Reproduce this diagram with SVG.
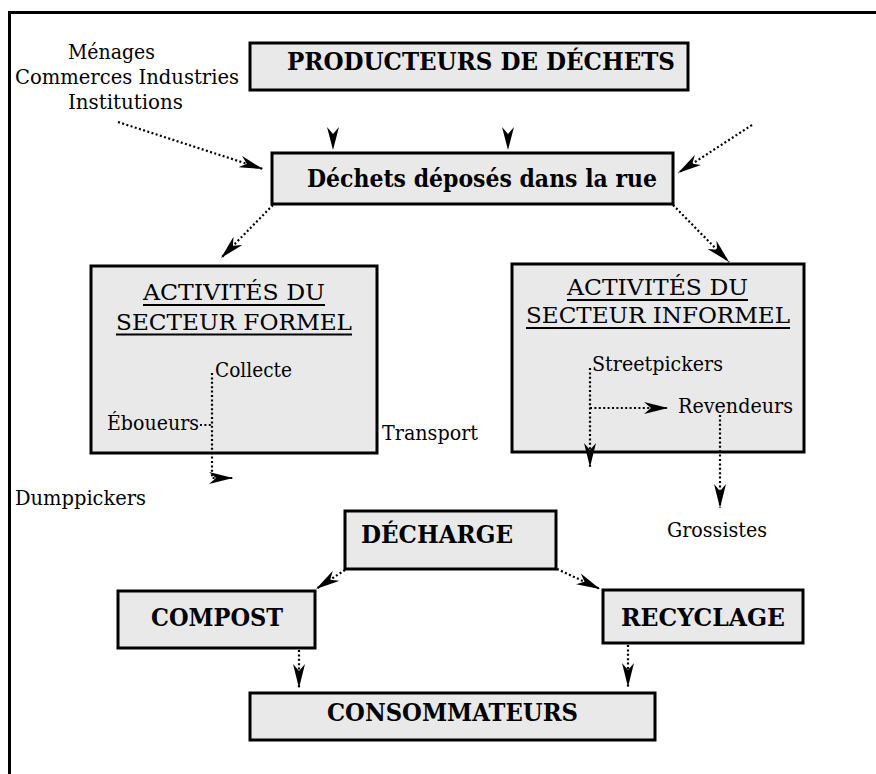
<svg xmlns="http://www.w3.org/2000/svg" width="876" height="774" viewBox="0 0 876 774">
<style>
.box{fill:#e9e9e9;stroke:#000;stroke-width:3}
.b{font-family:"DejaVu Serif","Liberation Serif",serif;font-weight:bold;font-size:24px;fill:#000}
.r{font-family:"DejaVu Serif","Liberation Serif",serif;font-size:20px;fill:#000}
.t{font-family:"DejaVu Serif","Liberation Serif",serif;font-size:22px;fill:#000}
.ul{stroke:#000;stroke-width:2}
.dot{fill:none;stroke:#000;stroke-width:2.2;stroke-dasharray:2 2.4}
.arr{marker-end:url(#ah)}
</style>
<defs>
<marker id="ah" markerUnits="userSpaceOnUse" viewBox="0 0 24 12" refX="24" refY="6" markerWidth="24" markerHeight="12" orient="auto">
<path d="M0,0 L24,6 L0,12 L7,6 Z" fill="#000"/>
</marker>
</defs>
<rect width="876" height="774" fill="#fff"/>
<g id="frame">
<path d="M9.5,774 V12.5 H876" fill="none" stroke="#000" stroke-width="3"/>
</g>
<g id="sources">
<text class="r" x="68" y="59" textLength="87" lengthAdjust="spacingAndGlyphs">Ménages</text>
<text class="r" x="15" y="84" textLength="224" lengthAdjust="spacingAndGlyphs">Commerces Industries</text>
<text class="r" x="68" y="109" textLength="115" lengthAdjust="spacingAndGlyphs">Institutions</text>
</g>
<g id="producteurs">
<rect class="box" x="250" y="43" width="438" height="47"/>
<text class="b" x="287" y="70" textLength="388" lengthAdjust="spacingAndGlyphs">PRODUCTEURS DE DÉCHETS</text>
</g>
<g id="rue">
<rect class="box" x="272" y="153" width="401" height="51"/>
<text class="b" x="307" y="187" textLength="350" lengthAdjust="spacingAndGlyphs">Déchets déposés dans la rue</text>
</g>
<g id="formel">
<rect class="box" x="91" y="266" width="286" height="187"/>
<text class="t" x="143" y="300" textLength="182" lengthAdjust="spacingAndGlyphs">ACTIVITÉS DU</text>
<line class="ul" x1="143" y1="305" x2="325" y2="305"/>
<text class="t" x="116" y="330" textLength="236" lengthAdjust="spacingAndGlyphs">SECTEUR FORMEL</text>
<line class="ul" x1="116" y1="334.5" x2="352" y2="334.5"/>
<text class="r" x="215" y="377" textLength="77" lengthAdjust="spacingAndGlyphs">Collecte</text>
<text class="r" x="107" y="430" textLength="92" lengthAdjust="spacingAndGlyphs">Éboueurs</text>
</g>
<g id="transport">
<text class="r" x="382" y="440" textLength="96" lengthAdjust="spacingAndGlyphs">Transport</text>
</g>
<g id="dumppickers">
<text class="r" x="15" y="505" textLength="131" lengthAdjust="spacingAndGlyphs">Dumppickers</text>
</g>
<g id="informel">
<rect class="box" x="512" y="264" width="292" height="188"/>
<text class="t" x="567" y="295" textLength="181" lengthAdjust="spacingAndGlyphs">ACTIVITÉS DU</text>
<line class="ul" x1="567" y1="300" x2="748" y2="300"/>
<text class="t" x="526" y="323" textLength="264" lengthAdjust="spacingAndGlyphs">SECTEUR INFORMEL</text>
<line class="ul" x1="526" y1="328" x2="790" y2="328"/>
<text class="r" x="592" y="371" textLength="131" lengthAdjust="spacingAndGlyphs">Streetpickers</text>
<text class="r" x="678" y="413" textLength="115" lengthAdjust="spacingAndGlyphs">Revendeurs</text>
</g>
<g id="grossistes">
<text class="r" x="667" y="537" textLength="100" lengthAdjust="spacingAndGlyphs">Grossistes</text>
</g>
<g id="decharge">
<rect class="box" x="345" y="511" width="211" height="58"/>
<text class="b" x="361" y="543" textLength="152" lengthAdjust="spacingAndGlyphs">DÉCHARGE</text>
</g>
<g id="compost">
<rect class="box" x="118" y="591" width="197" height="57"/>
<text class="b" x="151" y="626" textLength="132" lengthAdjust="spacingAndGlyphs">COMPOST</text>
</g>
<g id="recyclage">
<rect class="box" x="603" y="590" width="200" height="53"/>
<text class="b" x="621" y="626" textLength="164" lengthAdjust="spacingAndGlyphs">RECYCLAGE</text>
</g>
<g id="consommateurs">
<rect class="box" x="250" y="693" width="405" height="47"/>
<text class="b" x="327" y="721" textLength="251" lengthAdjust="spacingAndGlyphs">CONSOMMATEURS</text>
</g>
<g id="connectors">
<path class="dot arr" d="M118,122 L263,169"/>
<path class="dot arr" d="M752,125 L678,173"/>
<path d="M327,127 L333,150 L339,127 L333,134 Z" fill="#000"/>
<path d="M502,127 L508,150 L514,127 L508,134 Z" fill="#000"/>
<path class="dot arr" d="M273,205 L221,258"/>
<path class="dot arr" d="M673,205 L729,262"/>
<path class="dot arr" d="M212,373 V478 H233"/>
<path class="dot" d="M200,425 H212"/>
<path class="dot arr" d="M590,368 V467"/>
<path class="dot arr" d="M590,408 H668"/>
<path class="dot arr" d="M720,415 V508"/>
<path class="dot arr" d="M345,570 L316,589"/>
<path class="dot arr" d="M557,569 L600,589"/>
<path class="dot arr" d="M299,650 V688"/>
<path class="dot arr" d="M628,645 V687"/>
</g>
</svg>
